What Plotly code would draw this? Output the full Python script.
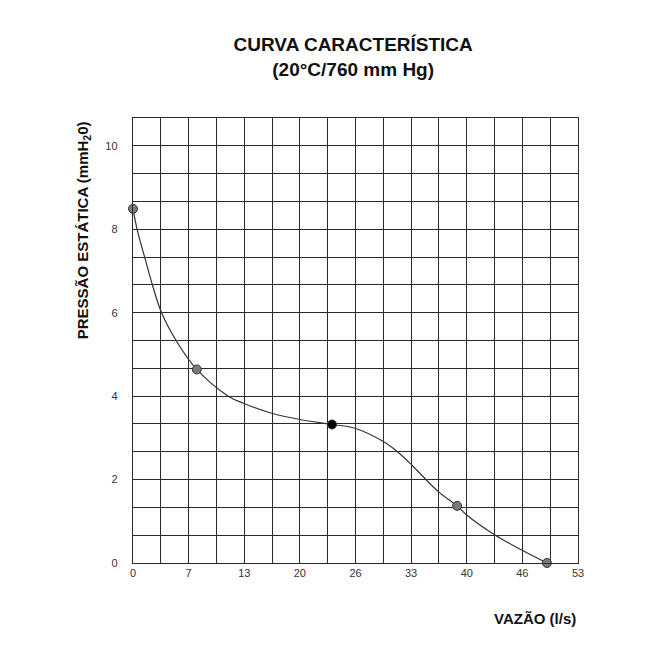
import plotly.graph_objects as go

vazao = [0, 7.6, 23.7, 38.6, 49.3]
pressao = [8.49, 4.64, 3.32, 1.37, 0]
marker_colors = ["#7a7a7a", "#7a7a7a", "#000000", "#7a7a7a", "#7a7a7a"]

# points
curva_x = [0, 0.51, 1.43, 2.35, 3.42, 5.2, 7.6, 11.35, 13.14, 16.52, 19.89,
           23.7, 26.44, 29.81, 31.6, 33.2, 36.36, 38.6, 39.74, 43.11, 46.29, 49.3]
curva_y = [8.49, 7.98, 7.3, 6.64, 5.99, 5.31, 4.64, 4.0, 3.83, 3.59, 3.44,
           3.32, 3.23, 2.91, 2.65, 2.35, 1.71, 1.37, 1.15, 0.67, 0.31, 0]

x_labels = ["0", "7", "13", "20", "26", "33", "40", "46", "53"]
y_labels = ["0", "2", "4", "6", "8", "10"]

X_MAX = 53
Y_MAX = 32 / 3  # 16 rows of 2/3
N_DIV = 16

# grid lines at every division, labels only on some of them
x_vals = [i * X_MAX / N_DIV for i in range(N_DIV + 1)]
x_text = [x_labels[i // 2] if i % 2 == 0 else "" for i in range(N_DIV + 1)]
y_vals = [i * Y_MAX / N_DIV for i in range(N_DIV + 1)]
y_text = [y_labels[i // 3] if i % 3 == 0 and i // 3 < len(y_labels) else "" for i in range(N_DIV + 1)]

grid_color = "#2a2a2a"
font = "Liberation Sans, Arial, sans-serif"

fig = go.Figure()
fig.add_trace(go.Scatter(
    x=curva_x, y=curva_y,
    mode="lines",
    line=dict(shape="spline", color="#333333", width=1.2),
    hoverinfo="skip",
    showlegend=False,
))
fig.add_trace(go.Scatter(
    x=vazao, y=pressao,
    mode="markers",
    marker=dict(size=9, color=marker_colors, line=dict(color="#333333", width=1)),
    cliponaxis=False,
    showlegend=False,
))

fig.update_layout(
    width=660, height=660,
    margin=dict(l=125, r=90, t=110, b=105),
    paper_bgcolor="white", plot_bgcolor="white",
    font=dict(family=font, color="#222222"),
    title=dict(
        text="<b>CURVA CARACTERÍSTICA<br>(20°C/760 mm Hg)</b>",
        x=0.523, xanchor="center", y=0.935, yanchor="middle",
        font=dict(size=19, color="#111111"),
    ),
    xaxis=dict(
        range=[0, X_MAX], tickvals=x_vals, ticktext=x_text,
        showgrid=True, gridcolor=grid_color, gridwidth=1.4,
        zeroline=False, showline=True, linecolor=grid_color, linewidth=1.4, mirror=True,
        ticks="", tickfont=dict(size=11, color="#333333"),
    ),
    yaxis=dict(
        range=[0, Y_MAX], tickvals=y_vals, ticktext=y_text,
        showgrid=True, gridcolor=grid_color, gridwidth=1.4,
        zeroline=False, showline=True, linecolor=grid_color, linewidth=1.4, mirror=True,
        ticks="", tickfont=dict(size=11, color="#333333"), ticklabelstandoff=12,
    ),
    annotations=[
        dict(text="<b>PRESSÃO ESTÁTICA (mmH<sub>2</sub>0)</b>", xref="paper", yref="paper",
             x=-0.112, y=0.748, xanchor="center", yanchor="middle", textangle=-90,
             showarrow=False, font=dict(size=15, color="#111111")),
        dict(text="<b>VAZÃO (l/s)</b>", xref="paper", yref="paper",
             x=1.0, y=-0.124, xanchor="right", yanchor="middle",
             showarrow=False, font=dict(size=15, color="#111111")),
    ],
)

fig.write_html("out.html")
